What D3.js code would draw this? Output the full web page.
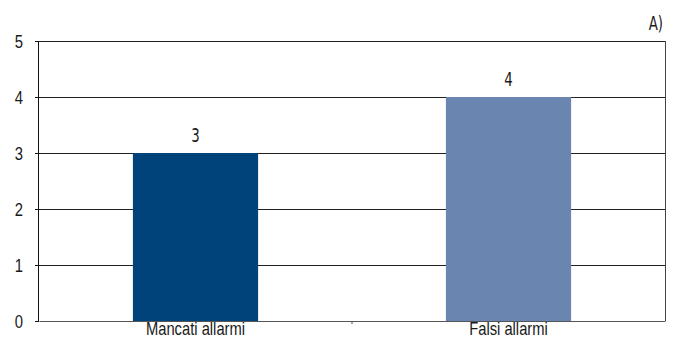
<!DOCTYPE html>
<html><head><meta charset="utf-8">
<script src="https://cdnjs.cloudflare.com/ajax/libs/d3/7.8.5/d3.min.js"></script>
<style>body{margin:0;background:#fff}text{font-family:"Liberation Sans Narrow","DejaVu Sans Condensed",sans-serif;fill:#1a1a1a}</style>
</head><body><svg id="c" width="676" height="341"></svg>
<script>
const categories = ["Mancati allarmi", "Falsi allarmi"];
const values = [3, 4];
const colors = ["#00427a", "#6a86b0"];
const yTicks = [0, 1, 2, 3, 4, 5];
const panelLabel = "A)";

const svg = d3.select("#c");
const m = {l: 39, r: 11, t: 41, b: 20};
const W = 676, H = 341;
const FS = "19px", SX = 0.78;
const x = d3.scaleBand().domain(categories).range([m.l, W - m.r]).paddingInner(0.6).paddingOuter(0.3);
const y = d3.scaleLinear().domain([0, 5]).range([H - m.b, m.t]);

function squeeze(sel, sx = SX) {
  sel.each(function() {
    const t = d3.select(this);
    const px = +t.attr("x") || 0, py = +t.attr("y") || 0;
    t.attr("transform", `translate(${px},${py}) scale(${sx},1)`).attr("x", 0).attr("y", 0);
  });
}

// gridlines
svg.append("g").selectAll("line").data(yTicks.filter(d => d > 0)).join("line")
  .attr("x1", m.l).attr("x2", W - m.r)
  .attr("y1", d => y(d)).attr("y2", d => y(d))
  .attr("stroke", "#222").attr("stroke-width", 1).attr("shape-rendering", "crispEdges");
// right border
svg.append("line").attr("x1", W - m.r).attr("x2", W - m.r).attr("y1", y(5)).attr("y2", y(0))
  .attr("stroke", "#444").attr("shape-rendering", "crispEdges");

// bars
svg.append("g").selectAll("rect").data(values).join("rect")
  .attr("x", (d, i) => x(categories[i])).attr("width", x.bandwidth())
  .attr("y", d => y(d)).attr("height", d => y(0) - y(d))
  .attr("fill", (d, i) => colors[i]);

// value labels
svg.append("g").selectAll("text").data(values).join("text")
  .attr("x", (d, i) => x(categories[i]) + x.bandwidth() / 2)
  .attr("y", d => y(d) - 11.5).attr("text-anchor", "middle")
  .style("font-size", FS).text(d => d).call(squeeze);

// y axis
const ya = svg.append("g").attr("transform", `translate(${m.l},0)`)
  .call(d3.axisLeft(y).tickValues(yTicks).tickSize(4).tickPadding(12).tickFormat(d3.format("d")));
ya.select(".domain").attr("stroke", "#111").attr("d", `M-0.5,${y(5)}V${y(0)}`);
ya.selectAll(".tick line").attr("stroke", "#111");
ya.selectAll("text").style("font-size", FS).attr("fill", "#1a1a1a")
  .style("font-family", "'Liberation Sans Narrow', sans-serif").attr("dy", "0.34em").call(squeeze);

// x axis
const xa = svg.append("g").attr("transform", `translate(0,${y(0)})`)
  .call(d3.axisBottom(x).tickSize(0).tickPadding(1));
xa.select(".domain").attr("stroke", "#555");
xa.selectAll("text").style("font-size", "18px").attr("fill", "#1a1a1a")
  .style("font-family", "'Liberation Sans Narrow', sans-serif").call(squeeze, 0.82);
// middle tick
svg.append("line").attr("x1", (m.l + W - m.r) / 2).attr("x2", (m.l + W - m.r) / 2)
  .attr("y1", y(0)).attr("y2", y(0) + 3).attr("stroke", "#555");

svg.append("text").attr("x", W - m.r - 2).attr("y", 30).attr("text-anchor", "end")
  .style("font-size", FS).text(panelLabel).call(squeeze);
</script></body></html>
